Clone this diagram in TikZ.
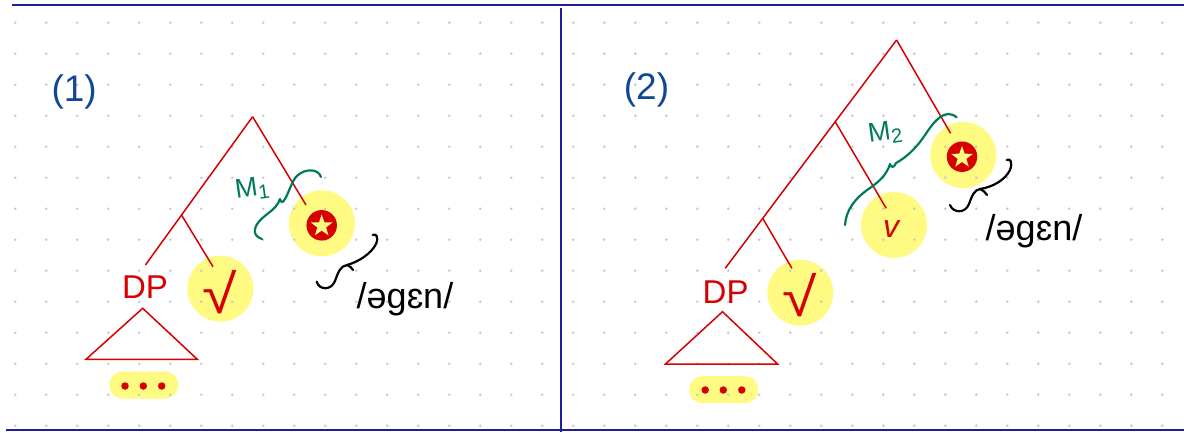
\documentclass[tikz,border=0pt]{standalone}
\usepackage{fontspec}
\setmainfont{Liberation Sans}
\usetikzlibrary{shapes.geometric,calc}
\definecolor{hl}{RGB}{255,250,130}
\definecolor{tred}{RGB}{214,0,0}
\definecolor{fblue}{RGB}{30,30,150}
\definecolor{lblue}{RGB}{16,72,150}
\definecolor{mgreen}{RGB}{0,122,92}
\definecolor{dotgray}{RGB}{200,200,200}
\tikzset{
 hlcirc/.style={circle, fill=hl, minimum size=66pt, inner sep=0pt},
 branch/.style={draw=tred, line width=1.5pt},
 lab/.style={text=tred, font=\fontsize{33}{33}\selectfont, inner sep=0pt},
 rootlab/.style={text=tred, font=\fontsize{33}{33}\selectfont, inner sep=0pt},
 vlab/.style={text=tred, font=\fontsize{32}{32}\selectfont\itshape, inner sep=0pt},
 pill/.style={fill=hl, rounded corners=13pt, minimum width=69pt, minimum height=27pt, inner sep=0pt},
 reddot/.style={circle, fill=tred, minimum size=7.5pt, inner sep=0pt},
 redball/.style={circle, fill=tred, minimum size=30.5pt, inner sep=0pt},
 starshape/.style={star, star points=5, star point ratio=2.5, fill=hl, minimum size=23pt, inner sep=0pt},
 panellabel/.style={text=lblue, font=\fontsize{37}{37}\selectfont, inner sep=0pt},
 phon/.style={text=black, font=\fontsize{36}{36}\selectfont, inner sep=0pt},
 mlabel/.style={text=mgreen, font=\fontsize{27}{27}\selectfont, inner sep=0pt},
 gbrace/.style={draw=mgreen, line width=2.2pt, line cap=round, line join=round},
 kbrace/.style={draw=black, line width=2.2pt, line cap=round, line join=round},
 framerule/.style={draw=fblue, line width=2pt},
}
\begin{document}
\begin{tikzpicture}[x=1pt,y=-1pt]
\useasboundingbox (0,0) rectangle (1184,432);
% highlights
\node[hlcirc] (sqhl1) at (220.4,288.7) {};
\node[hlcirc] (starhl1) at (321.9,223.3) {};
\node[pill] (pill1) at (143.8,385) {};
\node[hlcirc] (sqhl2) at (800.3,292.7) {};
\node[hlcirc] (vhl2) at (894,225) {};
\node[hlcirc] (starhl2) at (963.3,155) {};
\node[pill] (pill2) at (723.7,389.7) {};
% dot grid
\foreach \i in {0,...,37}{\foreach \j in {0,...,13}{
  \fill[dotgray] (15.3+31*\i,22.7+31*\j) circle (1.4pt);}}
% frame
\draw[framerule] (12,5) -- (1184,5);
\draw[framerule] (6,430) -- (1184,430);
\draw[framerule] (561,8) -- (561,432);
% panel labels
\node[panellabel] (lab1) at (74.2,91.5) {(1)};
\node[panellabel] (lab2) at (646.5,89.5) {(2)};
% ---------- panel 1 ----------
\coordinate (top1) at (252.6,116.7);
\coordinate (dpEnd1) at (145.4,265);
\coordinate (sqEnd1) at (213,266.7);
\coordinate (starEnd1) at (306,205);
\coordinate (mid1) at ($(top1)!0.663!(dpEnd1)$);
\draw[branch] (top1) -- (dpEnd1);
\draw[branch] (top1) -- (starEnd1);
\draw[branch] (mid1) -- (sqEnd1);
\node[lab] (dp1) at (145,287) {DP};
\node[rootlab] (sq1) at (220,292) {\scalebox{1.9}[1.65]{√}};
\node[redball] (ball1) at (321.7,225.3) {};
\node[starshape] (star1) at (321.7,226) {};
\coordinate (tri1a) at (142.7,308.3);
\coordinate (tri1b) at (86,359.3);
\coordinate (tri1c) at (197.3,359.3);
\draw[branch, line join=miter] (tri1a) -- (tri1b) -- (tri1c) -- cycle;
\node[reddot] (d1a) at (125,386) {};
\node[reddot] (d1b) at (143.3,386) {};
\node[reddot] (d1c) at (161.7,386) {};
\node[phon] (phon1) at (405,299) {/əgɛn/};
\node[mlabel, rotate=8] (m1) at (252,189) {M\raisebox{-5pt}{\fontsize{20}{20}\selectfont 1}};
\draw[gbrace] (262,239) .. controls (250,235) and (254,224) .. (266,215)
  .. controls (274,209) and (278,205) .. (280,199)
  .. controls (281,203) and (283,203) .. (285,199)
  .. controls (290,190) and (292,180) .. (298,175)
  .. controls (305,169) and (318,168) .. (321,177);
\draw[kbrace] (316.7,281.7) .. controls (319,290) and (331,291) .. (335,281)
  .. controls (338,273) and (340,266) .. (347,265)
  .. controls (350,266) and (352,268) .. (353,270);
\draw[kbrace] (347,265) .. controls (358,262) and (371,254) .. (376,244)
  .. controls (379,237) and (376,233) .. (372.7,235);
% ---------- panel 2 ----------
\coordinate (top2) at (896.6,40);
\coordinate (dpEnd2) at (725.2,268.3);
\coordinate (A2) at ($(top2)!0.358!(dpEnd2)$);
\coordinate (B2) at ($(top2)!0.781!(dpEnd2)$);
\coordinate (vEnd2) at (886.2,208.3);
\coordinate (sqEnd2) at (791.9,268.3);
\coordinate (starEnd2) at (950.6,133.3);
\draw[branch] (top2) -- (dpEnd2);
\draw[branch] (top2) -- (starEnd2);
\draw[branch] (A2) -- (vEnd2);
\draw[branch] (B2) -- (sqEnd2);
\node[lab] (dp2) at (725.6,291.7) {DP};
\node[rootlab] (sq2) at (800,295) {\scalebox{1.9}[1.65]{√}};
\node[vlab] (v2) at (891,229) {v};
\node[redball] (ball2) at (962,156.7) {};
\node[starshape] (star2) at (962,157.4) {};
\coordinate (tri2a) at (722.5,311.7);
\coordinate (tri2b) at (665.5,364);
\coordinate (tri2c) at (777.6,364);
\draw[branch, line join=miter] (tri2a) -- (tri2b) -- (tri2c) -- cycle;
\node[reddot] (d2a) at (705.2,390) {};
\node[reddot] (d2b) at (723.3,390) {};
\node[reddot] (d2c) at (741.8,390) {};
\node[phon] (phon2) at (1034,231) {/əgɛn/};
\node[mlabel, rotate=8] (m2) at (885,133) {M\raisebox{-5pt}{\fontsize{20}{20}\selectfont 2}};
\draw[gbrace] (845,225) .. controls (846,210) and (855,198) .. (870,188)
  .. controls (880,181) and (887,174) .. (890,164)
  .. controls (891,168) and (894,168) .. (896,163)
  .. controls (905,158) and (915,150) .. (925,135)
  .. controls (935,120) and (945,108) .. (956.7,117.3);
\draw[kbrace] (950,205) .. controls (953,213) and (965,214) .. (969,204)
  .. controls (972,196) and (974,190) .. (980,189)
  .. controls (983,190) and (985,192) .. (987,195);
\draw[kbrace] (980,189) .. controls (993,187) and (1005,180) .. (1010,170)
  .. controls (1013,162) and (1010,158) .. (1006.7,160);
\end{tikzpicture}
\end{document}
